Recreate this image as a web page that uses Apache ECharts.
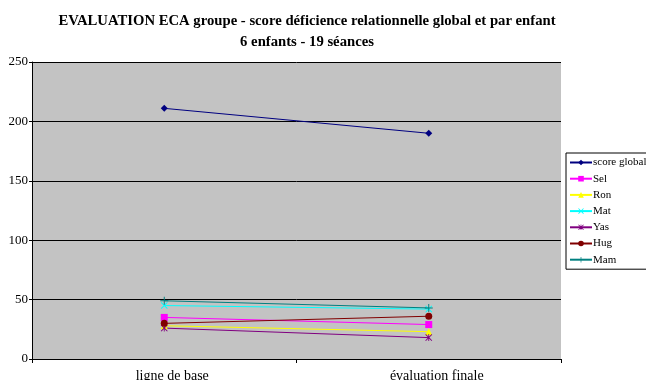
<!DOCTYPE html>
<html>
<head>
<meta charset="utf-8">
<script src="https://cdn.jsdelivr.net/npm/echarts@6/dist/echarts.min.js"></script>
<style>
body { margin: 0; background: #fff; }
#main { width: 646px; height: 380px; }
</style>
</head>
<body>
<div id="main"></div>
<script>
// catégories et valeurs
var categories = ["ligne de base", "évaluation finale"];
var scoreGlobal = [211, 190];
var sel = [35, 29];
var ron = [28, 23];
var mat = [45, 42];
var yas = [26, 18];
var hug = [30, 36];
var mam = [49, 43];
var yTicks = [0, 50, 100, 150, 200, 250];

var crossPath = "path://M0,1L1,0L5,4L9,0L10,1L6,5L10,9L9,10L5,6L1,10L0,9L4,5Z";
var plusPath = "path://M4.4,0H5.6V4.4H10V5.6H5.6V10H4.4V5.6H0V4.4H4.4Z";
var starPath = "path://M0,1L1,0L5,4L9,0L10,1L6,5L10,9L9,10L5,6L1,10L0,9L4,5Z M4.4,0H5.6V10H4.4Z";

function serie(name, data, color, symbol, size) {
  return {
    name: name,
    type: "line",
    data: data,
    symbol: symbol,
    symbolSize: size,
    showAllSymbol: true,
    lineStyle: { color: color, width: 1 },
    itemStyle: { color: color, borderWidth: 0 },
    emphasis: { disabled: true },
    animation: false
  };
}

var myChart = echarts.init(document.getElementById("main"));
var option = {
  animation: false,
  textStyle: { fontFamily: "Liberation Serif" },
  title: {
    text: "EVALUATION ECA groupe - score déficience relationnelle global et par enfant\n6 enfants - 19 séances",
    left: 302,
    top: 6,
    textAlign: "center",
    textStyle: {
      fontFamily: "Liberation Serif",
      fontSize: 14.7,
      fontWeight: "bold",
      color: "#000",
      lineHeight: 21
    }
  },
  legend: {
    orient: "vertical",
    left: 566,
    top: 153,
    padding: [4, 8, 4, 3],
    itemWidth: 22,
    itemHeight: 7,
    itemGap: 5.2,
    borderColor: "#000",
    borderWidth: 1,
    backgroundColor: "#fff",
    borderRadius: 0,
    textStyle: { fontFamily: "Liberation Serif", fontSize: 11, color: "#000", padding: [0, 0, 0, -4] },
    data: ["score global", "Sel", "Ron", "Mat", "Yas", "Hug", "Mam"]
  },
  grid: {
    left: 32,
    right: 85,
    top: 62,
    bottom: 21,
    outerBoundsMode: "none",
    containLabel: false,
    show: true,
    backgroundColor: "#c3c3c3",
    borderWidth: 0
  },
  xAxis: {
    type: "category",
    data: categories,
    boundaryGap: true,
    axisLine: { lineStyle: { color: "#000", width: 1 } },
    axisTick: { show: true, length: 4, lineStyle: { color: "#000" } },
    axisLabel: { color: "#000", fontSize: 14, margin: 10, padding: [0, 0, 0, 16], fontFamily: "Liberation Serif" }
  },
  yAxis: {
    type: "value",
    min: yTicks[0],
    max: yTicks[yTicks.length - 1],
    interval: 50,
    axisLine: { show: true, lineStyle: { color: "#000", width: 1 } },
    axisTick: { show: true, length: 3, lineStyle: { color: "#000" } },
    axisLabel: { color: "#000", fontSize: 13, margin: 4, fontFamily: "Liberation Serif" },
    splitLine: { show: true, lineStyle: { color: "#000", width: 1 } }
  },
  series: [
    serie("score global", scoreGlobal, "#000080", "diamond", 7),
    serie("Sel", sel, "#ff00ff", "rect", 7),
    serie("Ron", ron, "#ffff00", "triangle", 7),
    serie("Mat", mat, "#00ffff", crossPath, 7),
    serie("Yas", yas, "#800080", starPath, 7),
    serie("Hug", hug, "#800000", "circle", 7),
    serie("Mam", mam, "#008080", plusPath, 8)
  ]
};
myChart.setOption(option);
</script>
</body>
</html>
